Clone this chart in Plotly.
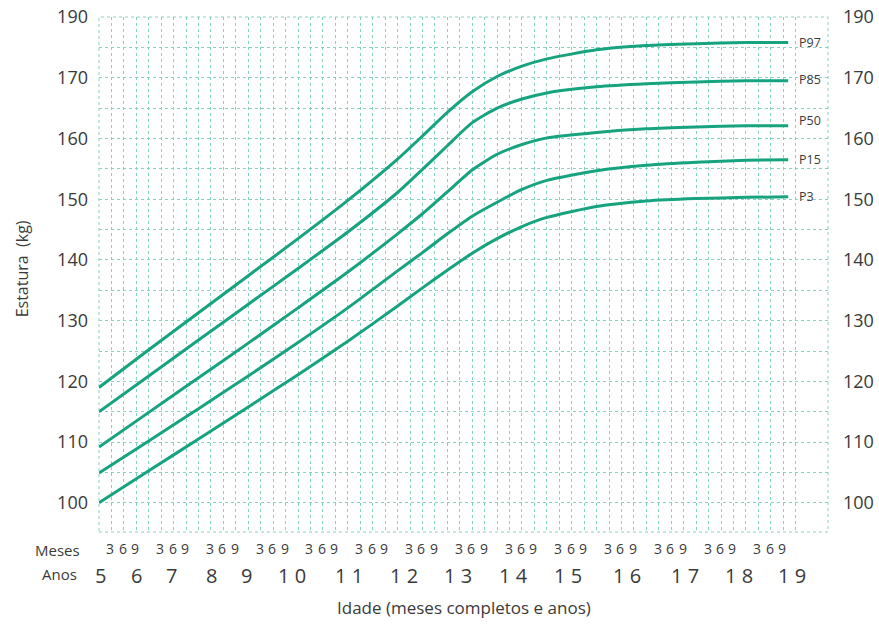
import numpy as np
import plotly.graph_objects as go

# ---- data ----
ages = [5, 6, 7, 8, 9, 10, 11, 11.5, 12, 12.5, 13, 13.5, 14, 15, 16, 17, 18, 18.85]

p97 = [119.0, 125.2, 131.3, 137.4, 143.5, 149.8, 156.6, 160.4, 164.3, 167.7, 170.2, 171.9, 173.1, 174.6, 175.3, 175.6, 175.8, 175.8]
p85 = [115.0, 120.9, 126.8, 132.7, 138.6, 144.6, 151.1, 154.9, 158.8, 162.6, 165.0, 166.5, 167.5, 168.5, 169.0, 169.3, 169.5, 169.5]
p50 = [109.2, 114.9, 120.6, 126.3, 132.1, 138.0, 144.3, 147.6, 151.2, 154.8, 157.4, 159.0, 160.1, 161.0, 161.6, 161.9, 162.1, 162.1]
p15 = [104.9, 110.2, 115.5, 120.9, 126.4, 132.1, 138.2, 141.2, 144.3, 147.2, 149.5, 151.6, 153.1, 154.7, 155.6, 156.1, 156.4, 156.5]
p3 = [100.0, 105.3, 110.5, 115.8, 121.1, 126.6, 132.4, 135.4, 138.3, 141.1, 143.5, 145.5, 147.0, 148.8, 149.7, 150.1, 150.3, 150.4]

series_names = ["P97", "P85", "P50", "P15", "P3"]
series_values = [p97, p85, p50, p15, p3]
label_y = [175.8, 169.7, 163.0, 156.5, 150.5]

y_tick_vals = [100, 110, 120, 130, 140, 150, 160, 170, 180]
y_tick_text = ["100", "110", "120", "130", "140", "150", "160", "170", "190"]

month_labels = ["3", "6", "9"]
years = list(range(5, 19))
year_labels = ["5", "6", "7", "8", "9", "1 0", "1 1", "1 2", "1 3", "1 4", "1 5", "1 6", "1 7", "1 8", "1 9"]
year_label_x = [5.02, 5.76, 6.46, 7.26, 7.96, 8.88, 10.02, 11.12, 12.22, 13.32, 14.42, 15.62, 16.78, 17.86, 18.92]

# ---- styles ----
LINE = "#17a37e"
GRID = "#86d2c2"
TXT = "#3a3a3a"
FONT = "Open Sans"

fig = go.Figure()
for name, vals in zip(series_names, series_values):
    fig.add_trace(go.Scatter(x=ages, y=vals, mode="lines", name=name,
                             line=dict(color=LINE, width=3, shape="spline", smoothing=0.6),
                             showlegend=False, hoverinfo="skip"))
# invisible trace to activate right axis
fig.add_trace(go.Scatter(x=[ages[0]], y=[p3[0]], yaxis="y2", mode="markers",
                         marker=dict(opacity=0), showlegend=False, hoverinfo="skip"))

grid_x = list(np.arange(5, 19.001, 0.25))
grid_y = list(range(100, 181, 5))
ytext_full = [y_tick_text[y_tick_vals.index(v)] if v in y_tick_vals else "" for v in grid_y]

ann = []
for name, ly in zip(series_names, label_y):
    ann.append(dict(x=19.02, y=ly, text=name, showarrow=False, xanchor="left", yanchor="middle",
                    font=dict(size=12.5, color=TXT, family=FONT)))
for yr in years:
    for i, m in enumerate(month_labels):
        ann.append(dict(x=yr + (i + 1) * 0.25, y=0, xref="x", yref="paper", text=m, showarrow=False,
                        xanchor="center", yanchor="middle", yshift=-16, xshift=-1,
                        font=dict(size=14, color=TXT, family=FONT)))
for xl, t in zip(year_label_x, year_labels):
    ann.append(dict(x=xl, y=0, xref="x", yref="paper", text=t, showarrow=False,
                    xanchor="center", yanchor="middle", yshift=-43,
                    font=dict(size=20, color=TXT, family=FONT)))
ann.append(dict(x=0, y=0, xref="paper", yref="paper", text="Meses", showarrow=False,
                xanchor="center", yanchor="middle", xshift=-42, yshift=-18,
                font=dict(size=15, color=TXT, family=FONT)))
ann.append(dict(x=0, y=0, xref="paper", yref="paper", text="Anos", showarrow=False,
                xanchor="center", yanchor="middle", xshift=-40, yshift=-42,
                font=dict(size=15, color=TXT, family=FONT)))
ann.append(dict(x=0.5, y=0, xref="paper", yref="paper", text="Idade (meses completos e anos)",
                showarrow=False, xanchor="center", yanchor="middle", yshift=-75,
                font=dict(size=17, color=TXT, family=FONT)))
ann.append(dict(x=0, y=0.51, xref="paper", yref="paper", text="Estatura\u00a0\u00a0(kg)",
                showarrow=False, xanchor="center", yanchor="middle", xshift=-77, textangle=-90,
                font=dict(size=16, color=TXT, family=FONT)))

fig.update_layout(
    width=879, height=625,
    margin=dict(l=99, r=51, t=17, b=93, autoexpand=False),
    paper_bgcolor="white", plot_bgcolor="white",
    font=dict(family=FONT, color=TXT),
    xaxis=dict(range=[5, 19.65], tickvals=grid_x, showticklabels=False, ticks="",
               showgrid=True, gridcolor=GRID, griddash="dot", gridwidth=1, automargin=False,
               zeroline=False, showline=False, fixedrange=True),
    yaxis=dict(range=[95.2, 180], tickvals=grid_y, ticktext=ytext_full, ticks="",
               showgrid=True, gridcolor=GRID, griddash="dot", gridwidth=1, automargin=False,
               zeroline=False, showline=False, ticklabelstandoff=10, ticklabeloverflow="allow",
               tickfont=dict(size=18, color=TXT, family=FONT), fixedrange=True),
    yaxis2=dict(range=[95.2, 180], overlaying="y", side="right", tickvals=grid_y, automargin=False,
                ticktext=ytext_full, ticks="", showgrid=False, zeroline=False, showline=False,
                ticklabelstandoff=14, ticklabeloverflow="allow",
                tickfont=dict(size=18, color=TXT, family=FONT), fixedrange=True),
    shapes=[dict(type="rect", xref="paper", yref="paper", x0=0, x1=1, y0=0, y1=1,
                 line=dict(color=GRID, width=1, dash="dot"), layer="below")],
    annotations=ann,
)

# remove the browser's default 8px body margin (and scrollbars) so the figure fills the window
fig.write_html("out.html", config={"displayModeBar": False},
               post_script="document.body.style.margin='0px';document.body.style.overflow='hidden';")
